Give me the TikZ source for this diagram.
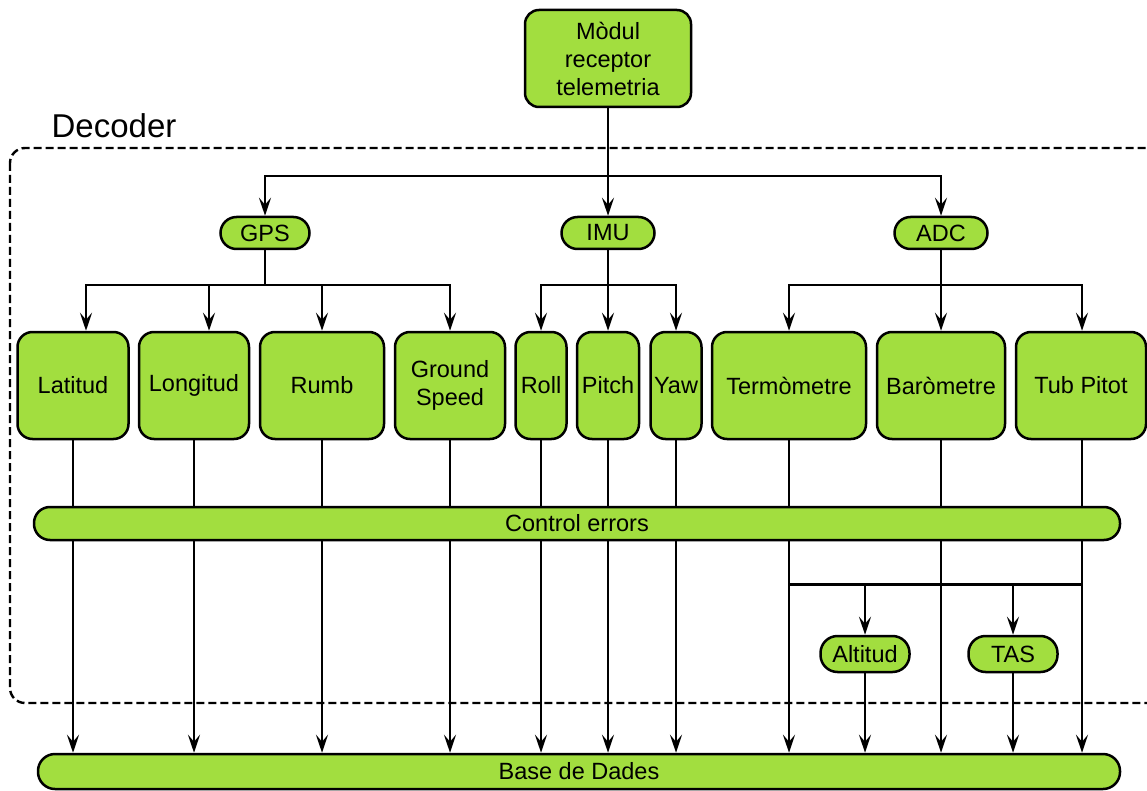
\documentclass[tikz,border=0pt]{standalone}
\usepackage{fontspec}
\setmainfont{Liberation Sans}
\usetikzlibrary{arrows.meta,calc}
\definecolor{leaf}{RGB}{162,222,63}
\pgfdeclarelayer{bg}
\pgfsetlayers{bg,main}
\tikzset{
  base/.style={draw=black, fill=leaf, line width=2.5pt, inner sep=0pt, align=center,
    font=\fontsize{23.5}{28}\selectfont, text=black},
  block/.style={base, rounded corners=15pt},
  pill/.style={base, rounded corners=16pt},
  wire/.style={draw=black, line width=2.5pt},
  arr/.style={wire, -{Stealth[length=18pt,width=12pt,inset=7pt]}},
}
\begin{document}
\begin{tikzpicture}[x=1pt,y=-1pt]
\useasboundingbox (0,0) rectangle (1147,791);
\clip (0,0) rectangle (1147,791);

% decoder frame
\draw[line width=2.4pt, dash pattern=on 8pt off 4pt, rounded corners=15pt]
  (10,148) rectangle (1162,703);
\node[font=\fontsize{33}{36}\selectfont] (declabel) at (114,126) {Decoder};

% source
\node[block, rounded corners=14pt, minimum width=166pt, minimum height=97pt] (rx) at (608,58.5)
  {Mòdul\\receptor\\telemetria};

% sensor groups
\node[pill, minimum width=89pt, minimum height=32pt] (gps) at (265,233) {GPS};
\node[pill, minimum width=93pt, minimum height=32pt] (imu) at (608,233) {IMU};
\node[pill, minimum width=93pt, minimum height=32pt] (adc) at (941,233) {ADC};

% measured values
\node[block, minimum width=111pt, minimum height=107pt] (lat)  at (73,385.5) {Latitud};
\node[block, minimum width=110pt, minimum height=107pt] (lon)  at (194,385.5) {Longitud};
\node[block, minimum width=124pt, minimum height=107pt] (rumb) at (322,385.5) {Rumb};
\node[block, minimum width=110pt, minimum height=107pt] (gs)   at (450,385.5) {Ground\\Speed};
\node[block, minimum width=51pt,  minimum height=107pt] (roll) at (541,385.5) {Roll};
\node[block, minimum width=62pt,  minimum height=107pt] (pitch) at (608,385.5) {Pitch};
\node[block, minimum width=51pt,  minimum height=107pt] (yaw)  at (676,385.5) {Yaw};
\node[block, minimum width=154pt, minimum height=107pt] (term) at (789,385.5) {Termòmetre};
\node[block, minimum width=128pt, minimum height=107pt] (baro) at (941,385.5) {Baròmetre};
\node[block, minimum width=130pt, minimum height=107pt] (tub)  at (1081,385.5) {Tub Pitot};

% error control and derived values
\node[pill, minimum width=1086pt, minimum height=33pt] (ctrl) at (577,523.5) {Control errors};
\node[pill, rounded corners=17pt, minimum width=89pt, minimum height=36pt] (alt) at (865,654) {Altitud};
\node[pill, rounded corners=17pt, minimum width=89pt, minimum height=36pt] (tas) at (1013,654) {TAS};

% database
\node[pill, rounded corners=17pt, minimum width=1082pt, minimum height=35pt] (db) at (579,771.5) {Base de Dades};

\begin{pgfonlayer}{bg}
  % receiver to groups
  \coordinate (top) at ($(rx.south)+(0,-68pt)$);
  \draw[wire] (rx.south) -- (top);
  \draw[arr] (top) -| (gps.north);
  \draw[arr] (top) -- (imu.north);
  \draw[arr] (top) -| (adc.north);

  % GPS fan-out
  \coordinate (gbus) at ($(gps.south)+(0,-35pt)$);
  \draw[wire] (gps.south) -- (gbus);
  \draw[arr] (gbus) -| ([xshift=13pt]lat.north);
  \draw[arr] (gbus) -| ([xshift=15pt]lon.north);
  \draw[arr] (gbus) -| (rumb.north);
  \draw[arr] (gbus) -| (gs.north);

  % IMU fan-out
  \coordinate (ibus) at ($(imu.south)+(0,-35pt)$);
  \draw[wire] (imu.south) -- (ibus);
  \draw[arr] (ibus) -| (roll.north);
  \draw[arr] (ibus) -- (pitch.north);
  \draw[arr] (ibus) -| (yaw.north);

  % ADC fan-out
  \coordinate (abus) at ($(adc.south)+(0,-35pt)$);
  \draw[wire] (adc.south) -- (abus);
  \draw[arr] (abus) -| (term.north);
  \draw[arr] (abus) -- (baro.north);
  \draw[arr] ([xshift=1pt]abus) -| ([xshift=1pt]tub.north);

  % values through error control into the database
  \foreach \n in {lat,lon,rumb,gs,roll,pitch,yaw,term,baro}
    \draw[arr] (\n.south) -- (\n.south |- db.north);
  \draw[arr] ([xshift=1pt]tub.south) -- ([xshift=1pt]tub.south |- db.north);

  % air data combination
  \coordinate (jl) at ($(term.south |- ctrl.south)+(0,-43pt)$);
  \coordinate (jr) at ($([xshift=1pt]tub.south |- ctrl.south)+(0,-43pt)$);
  \draw[wire] (jl) -- (jr);
  \draw[arr] (jl -| alt.north) -- (alt.north);
  \draw[arr] (jl -| tas.north) -- (tas.north);
  \draw[arr] (alt.south) -- (alt.south |- db.north);
  \draw[arr] (tas.south) -- (tas.south |- db.north);
\end{pgfonlayer}
\end{tikzpicture}
\end{document}
